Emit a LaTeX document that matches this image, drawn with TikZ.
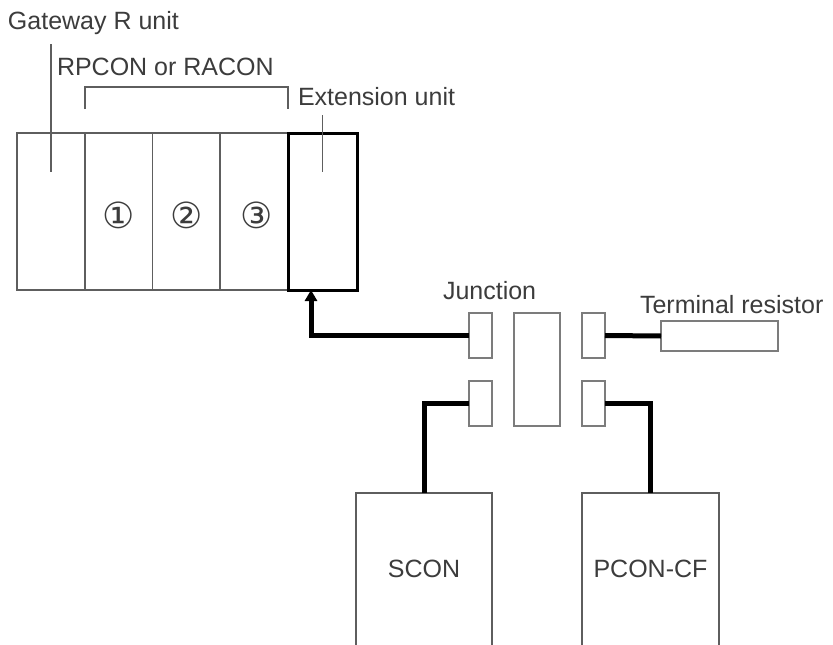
\documentclass[tikz,border=0pt]{standalone}
\usepackage{fontspec}
\setmainfont{Liberation Sans}
\newfontfamily\circfont{DejaVu Sans}
\usepackage{tikz}
\usetikzlibrary{arrows.meta, positioning}
\definecolor{framegray}{HTML}{5E5E5E}
\definecolor{portgray}{HTML}{7C7C7C}
\definecolor{textgray}{HTML}{3C3C3C}

\begin{document}
\begin{tikzpicture}[
    x=1pt, y=-1pt,
    every node/.style={font=\fontsize{25}{30}\selectfont, text=textgray, inner sep=0pt, outer sep=0pt},
    unit/.style={draw=framegray, line width=1.6pt, minimum width=67.75pt, minimum height=157pt},
    num/.style={font=\circfont\fontsize{36}{40}\selectfont},
    port/.style={draw=portgray, line width=1.6pt, minimum width=23pt, minimum height=45pt},
    drive/.style={minimum width=136pt, minimum height=152pt},
    leader/.style={draw=framegray, line width=1.6pt},
    wire/.style={line width=5pt, line join=miter}
]
    \useasboundingbox (0,0) rectangle (833,645);

    % controller block
    \node[unit, anchor=north west] (gw) at (17,133) {};
    \node[unit, right=0pt of gw] (u1) {};
    \node[unit, right=0pt of u1] (u2) {};
    \node[unit, right=0pt of u2] (u3) {};
    \node[unit, draw=black, line width=3pt, minimum width=69pt, right=0pt of u3] (ext) {};

    \node[num] (n1) at ([yshift=-4pt]u1.center) {①};
    \node[num] (n2) at ([yshift=-4pt]u2.center) {②};
    \node[num] (n3) at ([xshift=3pt, yshift=-4pt]u3.center) {③};

    \node[anchor=base west] (gwlbl) at (8,29) {Gateway R unit};
    \node[anchor=base west] (rlbl) at (57,75) {RPCON or RACON};
    \node[anchor=base west] (extlbl) at (298,105) {Extension unit};

    \draw[leader] ([yshift=-10pt]gwlbl.south -| gw.center) -- ([yshift=40pt]gw.center);
    \draw[leader] ([yshift=24pt]u1.north west) -- ([yshift=46pt]u1.north west) -| ([yshift=24pt]u3.north east);
    \draw[leader] ([yshift=18pt]ext.north) -- ([yshift=40pt]ext.center);

    % junction
    \node[port, anchor=north west] (jtl) at (469,313) {};
    \node[port, below=23pt of jtl] (jbl) {};
    \node[port, minimum width=46pt, minimum height=113pt, right=22pt of jtl.north east, anchor=north west] (jc) {};
    \node[port, right=22pt of jc.north east, anchor=north west] (jtr) {};
    \node[port, below=23pt of jtr] (jbr) {};
    \node[anchor=base west] (jlbl) at (443,299) {Junction};

    % terminal resistor
    \node[port, minimum width=117pt, minimum height=30pt, anchor=north west] (term) at (661,321) {};
    \node[anchor=base west] (tlbl) at (640,313) {Terminal resistor};

    % drives
    \node[drive, anchor=north west] (scon) at (356,493) {SCON};
    \node[drive, minimum width=137pt, anchor=north west] (pcon) at (582,493) {PCON-CF};
    \draw[leader] (scon.south west) |- (scon.north east) -- (scon.south east);
    \draw[leader] (pcon.south west) |- (pcon.north east) -- (pcon.south east);

    % cables
    \draw[wire, -{Triangle[length=11pt, width=12pt]}] (jtl.west) -| ([xshift=-11.5pt]ext.south);
    \draw[wire] (jtr.east) -- (term.west);
    \draw[wire] (jbl.west) -| (scon.north);
    \draw[wire] (jbr.east) -| (pcon.north);
\end{tikzpicture}
\end{document}
